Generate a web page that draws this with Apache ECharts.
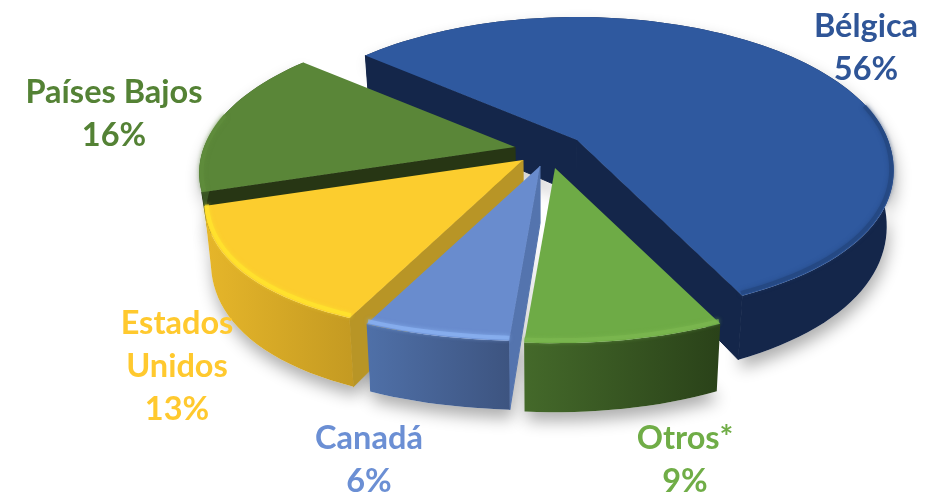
<!DOCTYPE html>
<html lang="es">
<head>
    <meta charset="UTF-8">
    <title>Pie</title>
    <script src="https://cdn.jsdelivr.net/npm/echarts@6/dist/echarts.min.js"></script>
    <style>
        html, body { margin: 0; padding: 0; background: #fff; }
    </style>
</head>
<body>
<div id="main" style="width: 935px;height:495px;"></div>
<script>
    // data (slice sizes estimated, labels show them rounded)
    const names = ['Bélgica', 'Otros*', 'Canadá', 'Estados\nUnidos', 'Países Bajos'];
    const values = [56.4, 8.6, 6.2, 12.7, 16.1];

    // looks
    const explodeX = [33, 11, -4, -21, -29];
    const explodeY = [-12, 16, 14, 8, -5];
    const wallHeights = [54, 57, 57, 58, 40];
    const bulges = [0.02, 0.02, 0.055, 0.055, 0];
    const topColors = ['#2f599f', '#6eab46', '#698cce', '#fccd2e', '#5a8638'];
    const cutColors = ['#14264a', '#2a4219', '#5474ae', '#b89526', '#273614'];
    const wallLeft = ['#14264a', '#44692a', '#4f70a8', '#e6b62a', '#3a5524'];
    const wallRight = ['#14264a', '#2a4219', '#3d5480', '#c49a22', '#3a5524'];
    const rimColors = ['#24467f', '#7cb850', '#8cb4f4', '#ffe62e', '#5f8d3c'];
    const textColors = ['#2f5597', '#70ad47', '#6b8fd4', '#ffc92e', '#548235'];
    const labelPos = [[866, 48], [685, 460], [369, 460], [177, 367], [114, 114]];
    const drawOrder = [0, 4, 3, 1, 2];

    const startAngle = -49.3;
    const cx = 544, cy = 152, rx = 311, ry = 144.5, persp = 0.175;
    const total = values.reduce((a, b) => a + b, 0);

    function pScale(v) { return 1 / (1 - persp * v); }

    let slices = [];
    let acc = startAngle;
    values.forEach(function (val, i) {
        let a0 = acc, a1 = acc + val / total * 360;
        acc = a1;
        slices.push({ a0: a0, a1: a1, ax: cx + explodeX[i], ay: cy + explodeY[i], h: wallHeights[i], b: bulges[i] });
    });

    function rimPoint(s, deg) {
        let t = deg * Math.PI / 180;
        let u = Math.sin(t), v = -Math.cos(t), p = pScale(v);
        // the front of the pie bulges a little at the diagonals
        let bulge = v > 0 ? 1 + s.b * Math.pow(Math.sin(2 * t), 2) : 1;
        return [s.ax + rx * u * p * bulge, s.ay + ry * v * p * bulge, p, v];
    }
    function down(pt, p, h) {
        return [pt[0] - (pt[0] - cx) * 0.02, pt[1] + h * p];
    }
    function arcPoints(s) {
        let pts = [];
        let n = Math.ceil((s.a1 - s.a0) / 2);
        for (let k = 0; k <= n; k++) {
            pts.push(rimPoint(s, s.a0 + (s.a1 - s.a0) * k / n));
        }
        return pts;
    }
    function sideOf(a, b, c) {
        return (b[0] - a[0]) * (c[1] - a[1]) - (b[1] - a[1]) * (c[0] - a[0]);
    }
    function strip(pts, h) {
        let out = pts.map(q => [q[0], q[1]]);
        for (let k = pts.length - 1; k >= 0; k--) out.push(down(pts[k], pts[k][2], h));
        return out;
    }

    function renderShadow(params, api) {
        let s = slices[api.value(0)];
        let apex = [s.ax, s.ay];
        let pts = arcPoints(s);
        return {
            type: 'polygon',
            shape: { points: strip(pts, s.h).concat([down(apex, 1, s.h)]) },
            style: {
                fill: '#fff',
                shadowBlur: 16,
                shadowColor: 'rgba(0,0,0,0.32)',
                shadowOffsetX: 2,
                shadowOffsetY: 9
            }
        };
    }

    function renderSlice(params, api) {
        let i = api.value(0);
        let s = slices[i];
        let apex = [s.ax, s.ay];
        let apexLow = down(apex, 1, s.h);
        let pts = arcPoints(s);
        let mid = rimPoint(s, (s.a0 + s.a1) / 2);
        let children = [];

        // the two cut faces, only when they look towards the viewer
        [pts[0], pts[pts.length - 1]].forEach(function (b) {
            let sMid = sideOf(apex, b, mid);
            let sLow = sideOf(apex, b, apexLow);
            if (sMid * sLow < 0) {
                children.push({
                    type: 'polygon',
                    shape: { points: [apex, [b[0], b[1]], down(b, b[2], s.h), apexLow] },
                    style: { fill: cutColors[i], stroke: cutColors[i], lineWidth: 1 }
                });
            }
        });

        // outer wall
        children.push({
            type: 'polygon',
            shape: { points: strip(pts, s.h) },
            style: {
                fill: {
                    type: 'linear', x: 0, y: 0, x2: 1, y2: 0,
                    colorStops: [
                        { offset: 0, color: wallLeft[i] },
                        { offset: 1, color: wallRight[i] }
                    ]
                }
            }
        });

        // top face
        children.push({
            type: 'polygon',
            shape: { points: [apex].concat(pts.map(q => [q[0], q[1]])) },
            style: { fill: topColors[i] }
        });

        // soft bevel along the front of the rim
        let front = pts.filter(q => q[3] > -0.25);
        if (front.length > 1) {
            children.push({
                type: 'polyline',
                shape: { points: front.map(q => [q[0] - (q[0] - s.ax) * 0.008, q[1] - 1 - 2 * q[3]]) },
                style: {
                    fill: null,
                    stroke: rimColors[i],
                    lineWidth: 4,
                    opacity: 0.7,
                    shadowBlur: 4,
                    shadowColor: rimColors[i]
                }
            });
        }

        // label
        children.push({
            type: 'text',
            style: {
                text: names[i] + '\n' + Math.round(values[i]) + '%',
                x: labelPos[i][0],
                y: labelPos[i][1],
                align: 'center',
                verticalAlign: 'middle',
                fill: textColors[i],
                font: 'bold 32.5px Lato',
                lineHeight: 43
            }
        });
        return { type: 'group', children: children };
    }

    let chartDom = document.getElementById('main');
    let myChart = echarts.init(chartDom);
    let orderData = drawOrder.map(i => [i, values[i]]);

    myChart.setOption({
        animation: false,
        backgroundColor: '#fff',
        series: [
            {
                type: 'custom',
                coordinateSystem: 'none',
                silent: true,
                renderItem: renderShadow,
                data: orderData
            },
            {
                type: 'custom',
                coordinateSystem: 'none',
                silent: true,
                renderItem: renderSlice,
                data: orderData
            }
        ]
    });
</script>
</body>
</html>
